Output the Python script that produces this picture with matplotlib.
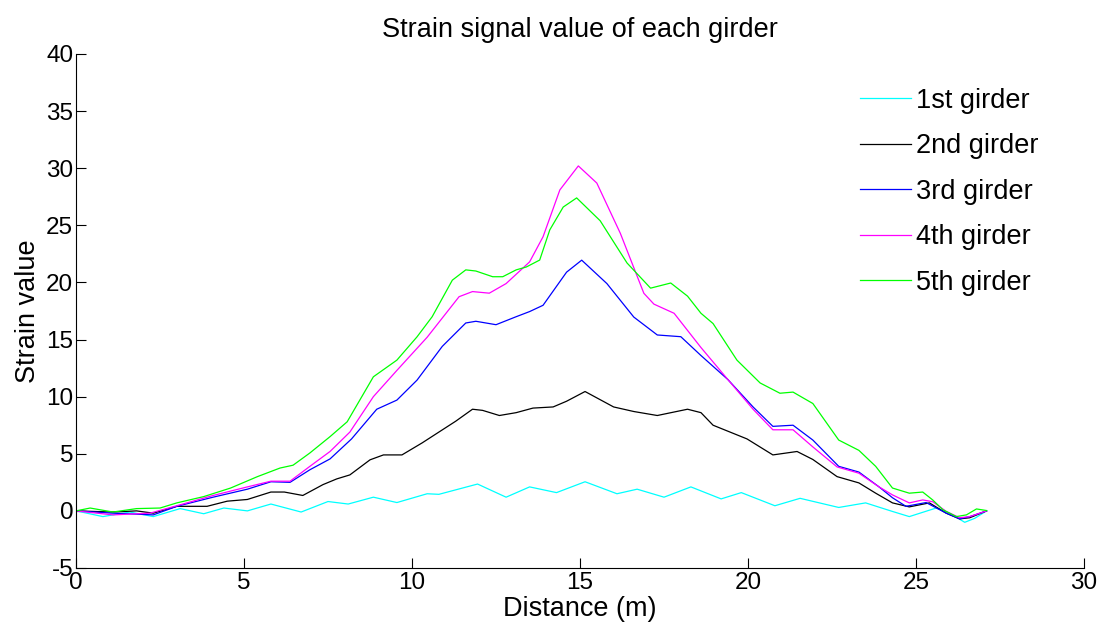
import matplotlib
matplotlib.use("Agg")
import matplotlib.pyplot as plt

plt.rcParams['font.family'] = ['Liberation Sans', 'DejaVu Sans']
plt.rcParams['axes.unicode_minus'] = False

# readings (distance in m, strain value)
x1 = [0, 0.8, 1.6, 2.3, 3.1, 3.8, 4.4, 5.1, 5.8, 6.7, 7.5, 8.1, 8.85, 9.55, 10.45,
      10.8, 11.95, 12.8, 13.5, 14.3, 15.15, 16.1, 16.7, 17.5, 18.3, 19.2, 19.8,
      20.8, 21.55, 22.7, 23.5, 24.3, 24.8, 25.6, 26.0, 26.45, 26.75, 27.1]
y1 = [0, -0.5, -0.1, -0.5, 0.2, -0.25, 0.25, 0.0, 0.6, -0.1, 0.82, 0.6, 1.2, 0.73, 1.5,
      1.45, 2.35, 1.2, 2.1, 1.6, 2.55, 1.5, 1.9, 1.2, 2.1, 1.05, 1.6,
      0.45, 1.1, 0.3, 0.7, -0.05, -0.5, 0.25, -0.2, -1.0, -0.65, 0]

x2 = [0, 1.1, 1.8, 2.3, 3.0, 3.9, 4.5, 5.1, 5.8, 6.2, 6.75, 7.35, 7.76, 8.15, 8.75,
      9.15, 9.7, 10.3, 11.3, 11.8, 12.1, 12.6, 13.1, 13.6, 14.2, 14.6, 15.15, 16.0,
      16.6, 17.3, 18.2, 18.6, 18.96, 19.97, 20.74, 21.46, 21.93, 22.65, 23.3, 23.8,
      24.3, 24.8, 25.4, 25.9, 26.3, 26.6, 27.1]
y2 = [0, -0.1, 0.0, -0.2, 0.4, 0.4, 0.85, 1.0, 1.65, 1.65, 1.35, 2.3, 2.8, 3.15, 4.47,
      4.9, 4.9, 5.95, 7.85, 8.9, 8.8, 8.35, 8.6, 9.0, 9.1, 9.6, 10.45, 9.1,
      8.7, 8.35, 8.9, 8.6, 7.5, 6.3, 4.9, 5.2, 4.5, 3.0, 2.45, 1.55,
      0.7, 0.35, 0.7, -0.2, -0.7, -0.6, 0]

x3 = [0, 1.1, 2.3, 3.0, 4.08, 5.1, 5.8, 6.37, 6.96, 7.56, 8.2, 8.95, 9.55, 10.15,
      10.9, 11.6, 11.9, 12.5, 13.1, 13.5, 13.9, 14.6, 15.05, 15.8, 16.6, 17.3, 18.0,
      18.6, 19.4, 20.15, 20.74, 21.34, 21.93, 22.7, 23.3, 23.9, 24.3, 24.7, 25.3,
      25.9, 26.3, 26.6, 27.1]
y3 = [0, -0.2, -0.35, 0.4, 1.2, 1.9, 2.55, 2.5, 3.6, 4.55, 6.3, 8.9, 9.7, 11.45,
      14.4, 16.45, 16.6, 16.3, 17.0, 17.45, 18.0, 20.9, 21.95, 19.9, 16.97, 15.4, 15.25,
      13.6, 11.5, 9.1, 7.4, 7.5, 6.2, 3.9, 3.4, 2.1, 1.15, 0.4, 0.73,
      -0.2, -0.7, -0.5, 0]

x4 = [0, 1.1, 2.2, 3.0, 4.08, 5.1, 5.8, 6.37, 6.96, 7.56, 8.15, 8.85, 9.55, 10.45,
      11.4, 11.8, 12.3, 12.8, 13.5, 13.9, 14.4, 14.95, 15.5, 16.2, 16.9, 17.2, 17.8,
      18.6, 19.4, 20.15, 20.74, 21.34, 21.93, 22.65, 23.3, 23.9, 24.3, 24.8, 25.2,
      25.5, 25.9, 26.3, 26.6, 27.1]
y4 = [0, -0.35, -0.2, 0.45, 1.35, 2.1, 2.6, 2.6, 3.9, 5.2, 6.9, 10.0, 12.3, 15.2,
      18.75, 19.2, 19.06, 19.9, 21.8, 24.0, 28.1, 30.2, 28.7, 24.3, 19.05, 18.1, 17.3,
      14.3, 11.5, 8.9, 7.1, 7.1, 5.6, 3.85, 3.3, 2.1, 1.4, 0.7, 0.96,
      0.8, -0.05, -0.6, -0.5, 0]

x5 = [0, 0.42, 1.1, 1.8, 2.5, 3.0, 3.8, 4.6, 5.4, 6.07, 6.46, 6.96, 7.56, 8.07, 8.85,
      9.55, 10.15, 10.6, 11.2, 11.6, 11.9, 12.4, 12.7, 13.1, 13.4, 13.8, 14.1, 14.5,
      14.9, 15.6, 16.4, 17.1, 17.7, 18.2, 18.6, 18.96, 19.67, 20.36, 20.95, 21.34,
      21.93, 22.7, 23.3, 23.8, 24.3, 24.8, 25.2, 25.5, 25.8, 26.2, 26.5, 26.8, 27.1]
y5 = [0, 0.25, -0.1, 0.2, 0.25, 0.7, 1.25, 2.0, 3.0, 3.75, 4.0, 5.07, 6.5, 7.8, 11.74,
      13.2, 15.24, 17.0, 20.2, 21.1, 21.0, 20.5, 20.5, 21.1, 21.35, 21.96, 24.6, 26.6,
      27.4, 25.4, 21.7, 19.5, 19.95, 18.8, 17.3, 16.4, 13.2, 11.2, 10.3, 10.4,
      9.4, 6.2, 5.3, 3.9, 2.0, 1.55, 1.65, 0.95, 0.1, -0.5, -0.35, 0.17, 0.03]

labels = ['1st girder', '2nd girder', '3rd girder', '4th girder', '5th girder']
colors = ['#00ffff', '#000000', '#0000ff', '#ff00ff', '#00ff00']

fig = plt.figure(figsize=(11.05, 6.27), dpi=100)
ax = fig.add_axes([0.0688, 0.0941, 0.9122, 0.8198])

for xs, ys, lab, col in zip([x1, x2, x3, x4, x5], [y1, y2, y3, y4, y5], labels, colors):
    ax.plot(xs, ys, color=col, linewidth=0.9, label=lab)

ax.set_xlim(0, 30)
ax.set_ylim(-5, 40)
ax.set_xticks(range(0, 31, 5))
ax.set_yticks(range(-5, 41, 5))
ax.spines['top'].set_visible(False)
ax.spines['right'].set_visible(False)
ax.tick_params(direction='in', length=7, width=0.8, labelsize=17.5)
ax.tick_params(axis='x', pad=3)
ax.tick_params(axis='y', pad=2)

ax.set_title('Strain signal value of each girder', fontsize=19.5, pad=12)
ax.set_xlabel('Distance (m)', fontsize=19.5, labelpad=1)
ax.set_ylabel('Strain value', fontsize=19.5, labelpad=4)

ax.legend(loc='upper left', bbox_to_anchor=(0.754, 0.982), frameon=False,
          fontsize=19.5, handlelength=1.85, handletextpad=0.22, labelspacing=0.72)

fig.savefig('out.png', dpi=100)
